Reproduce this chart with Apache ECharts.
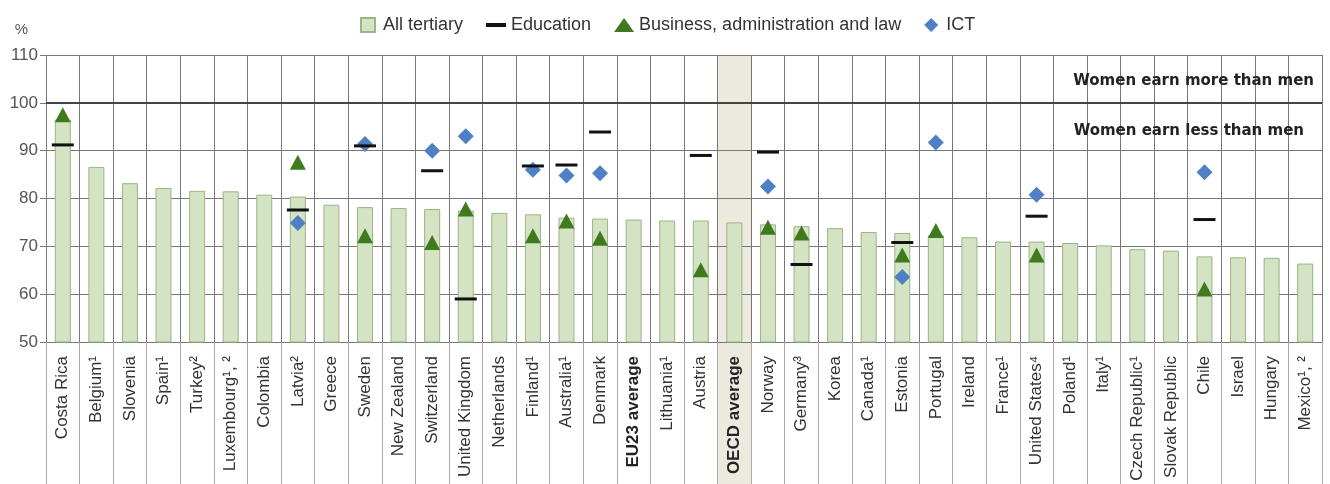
<!DOCTYPE html>
<html>
<head>
<meta charset="utf-8">
<script src="https://cdn.jsdelivr.net/npm/echarts@6/dist/echarts.min.js"></script>
<style>
html,body{margin:0;padding:0;background:#fff;}
#chart{width:1330px;height:484px;}
</style>
</head>
<body>
<div id="chart"></div>
<script>
const categories = ['Costa Rica','Belgium¹','Slovenia','Spain¹','Turkey²','Luxembourg¹, ²','Colombia','Latvia²','Greece','Sweden','New Zealand','Switzerland','United Kingdom','Netherlands','Finland¹','Australia¹','Denmark','EU23 average','Lithuania¹','Austria','OECD average','Norway','Germany³','Korea','Canada¹','Estonia','Portugal','Ireland','France¹','United States⁴','Poland¹','Italy¹','Czech Republic¹','Slovak Republic','Chile','Israel','Hungary','Mexico¹, ²'];
const allTertiary = [96.5,86.6,83.2,82.2,81.6,81.5,80.8,80.4,78.7,78.2,78.0,77.8,77.5,77.0,76.7,76.0,75.8,75.6,75.4,75.4,75.0,74.6,74.2,73.8,73.0,72.8,72.3,71.9,71.0,71.0,70.7,70.2,69.4,69.1,67.9,67.7,67.6,66.4];
const education = [91.2,null,null,null,null,null,null,77.6,null,91.0,null,85.8,59.0,null,86.8,87.0,93.9,null,null,89.0,null,89.7,66.2,null,null,70.8,null,null,null,76.3,null,null,null,null,75.6,null,null,null];
const business = [97.5,null,null,null,null,null,null,87.6,null,72.2,null,70.8,77.8,null,72.2,75.3,71.7,null,null,65.1,null,74.0,72.8,null,null,68.2,73.3,null,null,68.2,null,null,null,null,61.1,null,null,null];
const ict = [null,null,null,null,null,null,null,74.9,null,91.4,null,90.0,93.0,null,86.0,84.8,85.3,null,null,null,null,82.5,null,null,null,63.6,91.7,null,null,80.8,null,null,null,null,85.5,null,null,null];
const yTicks = [50,60,70,80,90,100,110];
const boldCats = ['EU23 average','OECD average'];
const highlightCat = 'OECD average';

const chart = echarts.init(document.getElementById('chart'));
const FONT = 'Liberation Sans, Arial, sans-serif';
chart.setOption({
  animation:false,
  textStyle:{fontFamily:FONT},
  legend:{
    top:11, left:355, itemGap:23, itemWidth:20, itemHeight:14,
    textStyle:{fontSize:18,color:'#333',fontFamily:FONT},
    data:[
      {name:'All tertiary', icon:'path://M0,0h10v10h-10z'},
      {name:'Education', icon:'path://M0,0h20v4h-20z'},
      {name:'Business, administration and law', icon:'triangle'},
      {name:'ICT', icon:'path://M5,0L10,5L5,10L0,5z'}
    ]
  },
  grid:{left:46,right:8,top:55,bottom:142},
  xAxis:{
    type:'category', data:categories,
    axisLine:{show:true,lineStyle:{color:'#777',width:1}},
    axisTick:{show:true,interval:0,length:142,lineStyle:{color:'#aaa'}},
    splitLine:{show:true,interval:0,lineStyle:{color:'#777',width:1}},
    axisLabel:{
      interval:0, rotate:90, fontSize:17, color:'#333', margin:14, fontFamily:FONT,
      formatter:function(v){return boldCats.indexOf(v)>=0?'{b|'+v+'}':v;},
      rich:{b:{fontWeight:'bold',fontSize:17,color:'#222',fontFamily:FONT}}
    }
  },
  yAxis:{
    type:'value', min:yTicks[0], max:yTicks[yTicks.length-1], interval:10,
    name:'%', nameLocation:'end', nameGap:18,
    nameTextStyle:{fontSize:15,color:'#555',align:'right',padding:[0,18,0,0]},
    axisLine:{show:false},
    axisTick:{show:true,length:6,lineStyle:{color:'#777'}},
    axisLabel:{fontSize:17,color:'#555',margin:8},
    splitLine:{show:true,lineStyle:{color:'#777',width:1}}
  },
  series:[
    {name:'All tertiary', type:'bar', data:allTertiary, barWidth:16,
     itemStyle:{color:'#d3e3c3',borderColor:'#9bb584',borderWidth:1},
     markLine:{silent:true,symbol:'none',
       lineStyle:{color:'#444',width:2,type:'solid'},
       data:[
         {yAxis:100,label:{show:true,position:'insideEndTop',distance:[8,14],formatter:'Women earn more than men',fontSize:15,fontWeight:'bold',color:'#222',fontFamily:'DejaVu Sans'}},
         {yAxis:100,label:{show:true,position:'insideEndBottom',distance:[18,21],formatter:'Women earn less than men',fontSize:15,fontWeight:'bold',color:'#222',fontFamily:'DejaVu Sans'}}
       ]}
    },
    {name:'Business, administration and law', type:'scatter', data:business, symbol:'triangle', symbolSize:[16,15], z:3,
     itemStyle:{color:'#3f7a1e',opacity:1}},
    {name:'ICT', type:'scatter', data:ict, symbol:'diamond', symbolSize:[16,16], z:4,
     itemStyle:{color:'#4f7fc4',opacity:1}},
    {name:'Education', type:'scatter', data:education, symbol:'rect', symbolSize:[22,3], z:5,
     itemStyle:{color:'#111',opacity:1}}
  ]
});

// beige highlight column for the OECD average (from plot top down through the label area)
const idx = categories.indexOf(highlightCat);
const cx = chart.convertToPixel({xAxisIndex:0}, idx);
const cx2 = chart.convertToPixel({xAxisIndex:0}, idx+1);
const colW = cx2 - cx;
const yTop = chart.convertToPixel({yAxisIndex:0}, yTicks[yTicks.length-1]);
chart.setOption({
  graphic:[{type:'rect', z:-10, silent:true,
    shape:{x:cx-colW/2, y:yTop, width:colW, height:chart.getHeight()-yTop},
    style:{fill:'#ece9df'}}]
});
</script>
</body>
</html>
